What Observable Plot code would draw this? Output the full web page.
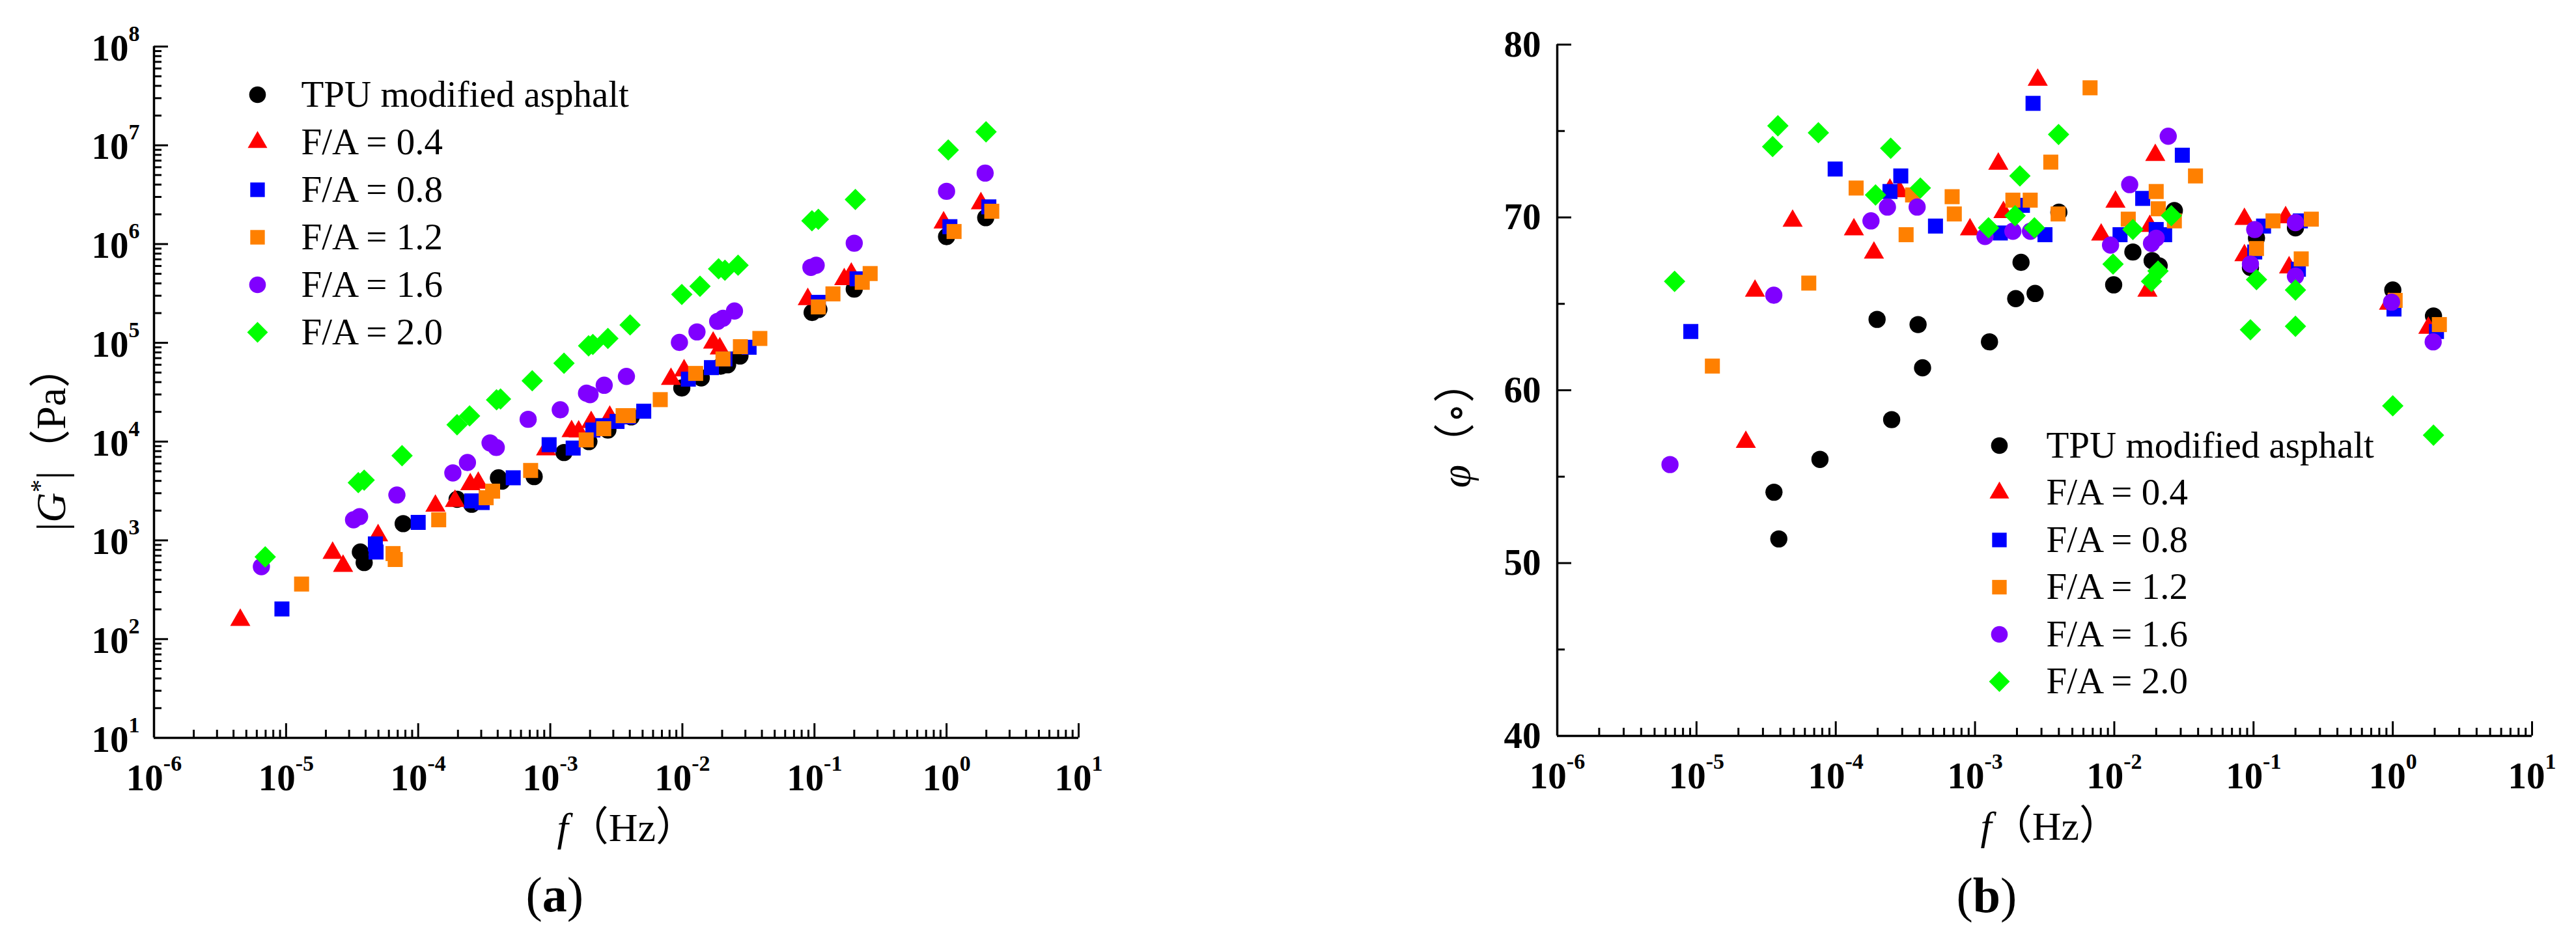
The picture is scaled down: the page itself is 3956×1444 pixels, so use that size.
<!DOCTYPE html>
<html>
<head>
<meta charset="utf-8">
<script src="https://cdn.jsdelivr.net/npm/d3@7"></script>
<script src="https://cdn.jsdelivr.net/npm/@observablehq/plot@0.6"></script>
<style>
html,body{margin:0;padding:0;background:#fff;}
#fig{position:relative;width:3956px;height:1444px;background:#fff;overflow:hidden;}
#fig svg{position:absolute;top:0;font-family:"Liberation Serif","DejaVu Serif","Noto Sans CJK SC",serif !important;}
#fig svg text, #fig svg tspan{font-family:"Liberation Serif","DejaVu Serif","Noto Sans CJK SC",serif !important;}
</style>
</head>
<body>
<div id="fig"></div>
<script>
// ---------- categories ----------
const seriesNames = ["TPU modified asphalt", "F/A = 0.4", "F/A = 0.8", "F/A = 1.2", "F/A = 1.6", "F/A = 2.0"];

// ---------- (a) |G*| (Pa) vs f (Hz): [f, |G*|] ----------
const modTPU = [[3.65e-5,762],[3.9e-5,596],[7.7e-5,1476],[1.97e-4,2606],[2.54e-4,2320],[4.05e-4,4300],[4.3e-4,3980],[7.55e-4,4420],[1.27e-3,7750],[1.96e-3,10000],[2.73e-3,13100],[4.1e-3,17800],[9.9e-3,34900],[1.39e-2,44200],[1.95e-2,58000],[2.2e-2,60000],[2.73e-2,73600],[9.6e-2,203000],[0.108,218000],[0.2,350000],[1.0,1.19e6],[1.98,1.85e6]];
const modFA04 = [[4.5e-6,156],[2.25e-5,745],[2.7e-5,550],[4.97e-5,1122],[1.35e-4,2235],[1.9e-4,2500],[2.48e-4,3690],[2.85e-4,3820],[9.3e-4,8300],[1.45e-3,12700],[1.64e-3,12600],[2.04e-3,15700],[2.82e-3,17800],[8.2e-3,42900],[1.03e-2,52400],[1.71e-2,100000],[1.92e-2,87500],[8.9e-2,276000],[0.168,440000],[0.19,500000],[0.95,1.65e6],[1.82,2.58e6]];
const modFA08 = [[9.3e-6,202],[4.74e-5,920],[4.8e-5,762],[1.0e-4,1520],[2.54e-4,2510],[3.05e-4,2415],[5.24e-4,4300],[9.8e-4,9300],[1.49e-3,8600],[2.1e-3,13100],[2.5e-3,14500],[3.2e-3,16000],[3.9e-3,17800],[5.1e-3,20300],[1.11e-2,42900],[1.66e-2,56100],[2.1e-2,68700],[3.2e-2,90200],[0.107,257000],[0.21,445000],[1.06,1.5e6],[2.09,2.38e6]];
const modFA12 = [[1.31e-5,361],[6.45e-5,735],[6.7e-5,640],[1.43e-4,1615],[3.27e-4,2700],[3.66e-4,3150],[7.1e-4,5100],[1.87e-3,10400],[2.54e-3,13500],[3.56e-3,18300],[3.9e-3,18300],[6.8e-3,26600],[1.26e-2,49000],[2.03e-2,68700],[2.75e-2,91400],[3.86e-2,110700],[0.107,231000],[0.138,313000],[0.23,410000],[0.264,503000],[1.14,1.34e6],[2.2,2.15e6]];
const modFA16 = [[6.5e-6,542],[3.24e-5,1615],[3.6e-5,1740],[6.9e-5,2880],[1.83e-4,4820],[2.36e-4,6140],[3.5e-4,9700],[3.9e-4,8720],[6.8e-4,16800],[1.19e-3,21000],[1.88e-3,30900],[2.0e-3,29900],[2.56e-3,37200],[3.77e-3,45700],[9.5e-3,101000],[1.29e-2,129000],[1.85e-2,165000],[2.03e-2,177000],[2.48e-2,210000],[9.4e-2,581000],[0.103,610000],[0.2,1.02e6],[1.0,3.42e6],[1.96,5.23e6]];
const modFA20 = [[6.95e-6,680],[3.52e-5,3840],[3.9e-5,4070],[7.55e-5,7200],[1.97e-4,14800],[2.45e-4,18200],[3.92e-4,26500],[4.2e-4,27000],[7.3e-4,41300],[1.27e-3,62100],[1.95e-3,93300],[2.1e-3,96400],[2.73e-3,110700],[4.02e-3,151700],[9.9e-3,309000],[1.36e-2,374000],[1.88e-2,562000],[2.1e-2,543000],[2.64e-2,611000],[9.57e-2,1.72e6],[0.107,1.78e6],[0.204,2.83e6],[1.03,8.97e6],[1.99,1.37e7]];

// ---------- (b) phase angle (°) vs f (Hz): [f, phi] ----------
const phTPU = [[3.6e-5,54.1],[3.9e-5,51.4],[7.7e-5,56.0],[1.98e-4,64.1],[2.52e-4,58.3],[3.9e-4,63.8],[4.2e-4,61.3],[1.27e-3,62.8],[1.96e-3,65.3],[2.14e-3,67.4],[2.7e-3,65.6],[4.0e-3,70.3],[9.9e-3,66.1],[1.36e-2,68.0],[1.87e-2,67.5],[2.1e-2,67.2],[2.7e-2,70.4],[9.5e-2,67.1],[0.105,68.8],[0.2,69.4],[1.0,65.8],[1.96,64.3]];
const phFA04 = [[2.26e-5,57.0],[2.63e-5,65.75],[4.9e-5,69.8],[1.35e-4,69.3],[1.88e-4,67.95],[2.45e-4,71.6],[2.87e-4,71.5],[9.2e-4,69.3],[1.47e-3,73.1],[1.6e-3,70.3],[2.82e-3,77.95],[8.05e-3,69.0],[1.02e-2,70.9],[1.73e-2,65.75],[1.8e-2,69.5],[1.97e-2,73.6],[8.6e-2,69.9],[8.6e-2,67.8],[0.17,70.0],[0.18,67.1],[0.94,65.0],[1.8,63.6]];
const phFA08 = [[9.1e-6,63.4],[9.9e-5,72.8],[2.45e-4,71.5],[2.93e-4,72.4],[5.2e-4,69.5],[1.52e-3,69.1],[2.19e-3,70.7],[2.61e-3,76.6],[3.18e-3,69.0],[1.1e-2,69.0],[1.6e-2,71.1],[2.0e-2,69.3],[2.3e-2,69.0],[3.08e-2,73.6],[0.102,68.0],[0.118,69.5],[0.21,67.0],[0.217,69.8],[1.02,64.7],[2.06,63.4]];
const phFA12 = [[1.3e-5,61.4],[6.4e-5,66.2],[1.4e-4,71.7],[3.2e-4,69.0],[3.56e-4,71.3],[6.85e-4,71.2],[7.1e-4,70.2],[1.87e-3,71.0],[2.49e-3,71.0],[3.5e-3,73.2],[3.95e-3,70.2],[6.7e-3,77.5],[1.26e-2,69.9],[2.0e-2,71.5],[2.07e-2,70.5],[2.7e-2,69.8],[3.83e-2,72.4],[0.105,68.2],[0.138,69.8],[0.22,67.6],[0.26,69.9],[1.04,65.2],[2.16,63.8]];
const phFA16 = [[6.45e-6,55.7],[3.59e-5,65.5],[1.79e-4,69.8],[2.35e-4,70.6],[3.84e-4,70.6],[1.18e-3,68.9],[1.87e-3,69.2],[2.5e-3,69.2],[9.4e-3,68.4],[1.29e-2,71.9],[1.85e-2,68.5],[2.0e-2,68.8],[2.44e-2,74.7],[9.5e-2,67.3],[0.102,69.3],[0.2,66.6],[0.2,69.7],[0.98,65.1],[1.95,62.8]];
const phFA20 = [[6.96e-6,66.3],[3.52e-5,74.1],[3.84e-5,75.3],[7.5e-5,74.9],[1.93e-4,71.3],[2.48e-4,74.0],[4.05e-4,71.7],[1.25e-3,69.4],[1.94e-3,70.1],[2.1e-3,72.4],[2.67e-3,69.4],[3.98e-3,74.8],[9.8e-3,67.3],[1.36e-2,69.3],[1.85e-2,66.3],[2.06e-2,66.9],[2.57e-2,70.1],[9.5e-2,63.5],[0.105,66.4],[0.2,63.7],[0.2,65.8],[1.0,59.1],[1.96,57.4]];

// ---------- tick values ----------
const xDecadeExps = [-6, -5, -4, -3, -2, -1, 0, 1];
const yDecadeExpsA = [1, 2, 3, 4, 5, 6, 7, 8];
const yTicksB = [40, 50, 60, 70, 80];
const yMinorB = [45, 55, 65, 75];

// ---------- styles (not data) ----------
const colors = ["#000000", "#ff0000", "#0000ff", "#ff8000", "#8000ff", "#00ff00"];
const symbols = ["circle", "triangle", "square", "square", "circle", "diamond2"];
const radii = [13.2, 11.5, 13, 13, 13.2, 14.8];
const FONT = "'Liberation Serif','DejaVu Serif','Noto Sans CJK SC',serif";
const H = 1444;

function decadeMinors(exps) {
  const out = [];
  for (let i = 0; i < exps.length - 1; i++) for (let k = 2; k <= 9; k++) out.push(k * Math.pow(10, exps[i]));
  return out;
}

function panel(o) {
  const frameW = o.width - o.marginLeft - o.marginRight;
  const frameH = H - o.marginTop - o.marginBottom;
  const xMaj = xDecadeExps.map(e => Math.pow(10, e));
  const xMin = decadeMinors(xDecadeExps);
  const marks = [];
  const txt = {fontFamily: FONT, lineAnchor: "middle"};
  // axis lines
  marks.push(Plot.ruleX([xMaj[0]], {stroke: "black", strokeWidth: 3.5}));
  marks.push(Plot.ruleY([o.yDomain[0]], {stroke: "black", strokeWidth: 3.5}));
  // inward ticks
  marks.push(Plot.tickX(xMaj, {x: d => d, insetTop: frameH - 22, stroke: "black", strokeWidth: 3}));
  marks.push(Plot.tickX(xMin, {x: d => d, insetTop: frameH - 12, stroke: "black", strokeWidth: 3}));
  marks.push(Plot.tickY(o.yMaj, {y: d => d, insetRight: frameW - 22, stroke: "black", strokeWidth: 3}));
  marks.push(Plot.tickY(o.yMin, {y: d => d, insetRight: frameW - 12, stroke: "black", strokeWidth: 3}));
  // tick labels
  marks.push(Plot.text(xDecadeExps, {...txt, x: e => Math.pow(10, e), frameAnchor: "bottom", dy: 62,
    text: e => "10^" + e, fontWeight: "bold", fontSize: 57, textAnchor: "middle"}));
  marks.push(Plot.text(o.yMaj, {...txt, y: d => d, frameAnchor: "left", dx: o.yLabelDx, dy: o.yLabelDy,
    text: o.yLabelText, fontWeight: "bold", fontSize: 57, textAnchor: "end"}));
  // data
  o.series.forEach((arr, i) => {
    marks.push(Plot.dot(arr, {x: d => d[0], y: d => d[1], symbol: symbols[i], fill: colors[i], r: radii[i], stroke: "none"}));
  });
  // legend
  seriesNames.forEach((name, i) => {
    marks.push(Plot.dot([name], {x: null, y: null, frameAnchor: "top-left", dx: o.legDx, dy: o.legDy0 + o.legStep * i,
      symbol: symbols[i], fill: colors[i], r: radii[i] * 0.97}));
    marks.push(Plot.text([name], {...txt, x: null, y: null, frameAnchor: "top-left", dx: o.legTextDx, dy: o.legDy0 + o.legStep * i,
      text: d => d, textAnchor: "start", fontSize: 57}));
  });
  // axis titles
  marks.push(Plot.text([o.xTitle], {...txt, x: null, y: null, frameAnchor: "bottom-left", dx: o.xTitleDx, dy: o.xTitleDy,
    text: d => d, textAnchor: "start", fontSize: 62}));
  marks.push(Plot.text([o.yTitle], {...txt, x: null, y: null, frameAnchor: "left", dx: o.yTitleDx, dy: o.yTitleDy,
    rotate: -90, text: d => d, textAnchor: "start", fontSize: 64}));
  marks.push(Plot.text([o.panel], {...txt, x: null, y: null, frameAnchor: "bottom-left", dx: o.panelDx, dy: o.panelDy,
    text: d => d, textAnchor: "start", fontSize: 76}));
  return Plot.plot({
    width: o.width, height: H,
    marginLeft: o.marginLeft, marginRight: o.marginRight, marginTop: o.marginTop, marginBottom: o.marginBottom,
    x: {type: "log", domain: [1e-6, 10], axis: null},
    y: {type: o.yType, domain: o.yDomain, axis: null},
    style: {fontFamily: FONT, fontSize: "57px", background: "white", color: "black", overflow: "visible"},
    marks
  });
}

const svgA = panel({
  width: 1900, marginLeft: 236, marginRight: 244, marginTop: 71, marginBottom: 311,
  yType: "log", yDomain: [10, 1e8],
  yMaj: yDecadeExpsA.map(e => Math.pow(10, e)), yMin: decadeMinors(yDecadeExpsA),
  yLabelText: d => "10^" + Math.round(Math.log10(d)), yLabelDx: -22, yLabelDy: 3,
  series: [modTPU, modFA04, modFA08, modFA12, modFA16, modFA20],
  legDx: 159, legTextDx: 226, legDy0: 74, legStep: 73,
  xTitle: "f（Hz）", xTitleDx: 619, xTitleDy: 139,
  yTitle: "|G*|（Pa）", yTitleDx: -157, yTitleDy: 213,
  panel: "(a)", panelDx: 571, panelDy: 242
});
const svgB = panel({
  width: 2056, marginLeft: 491, marginRight: 68, marginTop: 68, marginBottom: 314,
  yType: "linear", yDomain: [40, 80],
  yMaj: yTicksB, yMin: yMinorB,
  yLabelText: d => String(d), yLabelDx: -25, yLabelDy: 0,
  series: [phTPU, phFA04, phFA08, phFA12, phFA16, phFA20],
  legDx: 679, legTextDx: 751, legDy0: 616, legStep: 72.5,
  xTitle: "f（Hz）", xTitleDx: 650, xTitleDy: 140,
  yTitle: "φ（∘）", yTitleDx: -155, yTitleDy: 150,
  panel: "(b)", panelDx: 613, panelDy: 246
});
svgA.style.left = "0px";
svgB.style.left = "1900px";
const fig = document.getElementById("fig");
fig.appendChild(svgA);
fig.appendChild(svgB);

// rich text: superscripts, italics, bold
function rich(svg) {
  d3.select(svg).selectAll("text").each(function () {
    const sel = d3.select(this);
    const t = this.textContent;
    const m = /^10\^(-?\d+)$/.exec(t);
    if (m) {
      sel.text(null);
      sel.append("tspan").text("10");
      sel.append("tspan").attr("dy", -30).attr("font-size", 34).text(m[1]);
    } else if (t === "f（Hz）") {
      sel.text(null);
      sel.append("tspan").attr("font-style", "italic").text("f");
      sel.append("tspan").text("（Hz）");
    } else if (t === "|G*|（Pa）") {
      sel.text(null);
      sel.append("tspan").text("|");
      sel.append("tspan").attr("font-style", "italic").text("G");
      sel.append("tspan").attr("dy", -26).attr("font-size", 40).text("*");
      sel.append("tspan").attr("dy", 26).text("|");
      sel.append("tspan").text("（Pa）");
    } else if (t === "φ（∘）") {
      sel.text(null);
      sel.append("tspan").attr("font-style", "italic").text("φ");
      sel.append("tspan").text("（∘）");
    } else if (t === "(a)" || t === "(b)") {
      sel.text(null);
      sel.append("tspan").text("(");
      sel.append("tspan").attr("font-weight", "bold").text(t[1]);
      sel.append("tspan").text(")");
    }
  });
}
rich(svgA);
rich(svgB);
</script>
</body>
</html>
